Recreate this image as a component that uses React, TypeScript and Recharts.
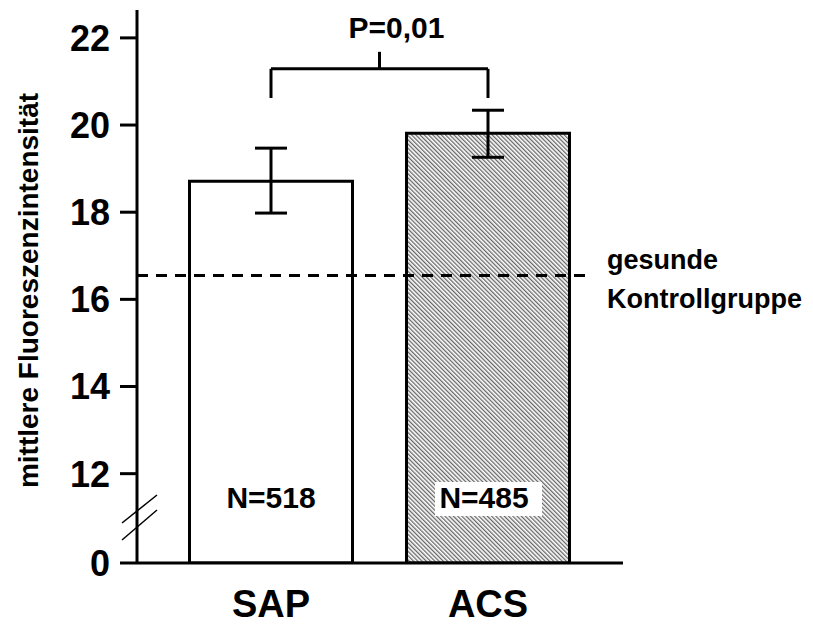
import React from 'react';
import {
   BarChart,
   Bar,
   XAxis,
   YAxis,
   ErrorBar,
   Cell,
   LabelList,
   ReferenceLine,
} from 'recharts';

const FONT = '"Liberation Sans", Arial, Helvetica, sans-serif';

// broken axis: the "0" sits just below 12
const AXIS_BREAK = 9.95;

const categories = ['SAP', 'ACS'];
const means = [18.71, 19.81];
const errLow = [0.73, 0.55];
const errHigh = [0.76, 0.53];
const sampleSizes = [518, 485];

const yTicks = [AXIS_BREAK, 12, 14, 16, 18, 20, 22];
const yTickLabels = ['0', '12', '14', '16', '18', '20', '22'];
const yMax = 22.64;

const controlLevel = 16.55;
const bracketLevel = 21.29;
const bracketLegEnd = 20.62;
const pValueText = 'P=0,01';

const rows = categories.map((category, i) => ({
   category,
   mean: means[i],
   err: [errLow[i], errHigh[i]],
   n: sampleSizes[i],
}));

const YTick = ({ x, y, payload }: any) => {
   const idx = yTicks.indexOf(payload.value);
   const isBreak = payload.value === AXIS_BREAK;
   return (
      <g>
         <text
            x={x}
            y={y}
            dy="0.36em"
            textAnchor="end"
            fontSize={36}
            fontWeight="bold"
            fontFamily={FONT}
            fill="#000"
         >
            {yTickLabels[idx]}
         </text>
         {isBreak && (
            <g stroke="#000" strokeWidth={1.5}>
               <line x1={x + 12} y1={y - 40} x2={x + 47} y2={y - 68} />
               <line x1={x + 12} y1={y - 23} x2={x + 47} y2={y - 53} />
            </g>
         )}
      </g>
   );
};

const XTick = ({ x, y, payload }: any) => (
   <text
      x={x}
      y={y + 52}
      textAnchor="middle"
      fontSize={38}
      fontWeight="bold"
      fontFamily={FONT}
      fill="#000"
   >
      {payload.value}
   </text>
);

const YLabel = ({ viewBox }: any) => {
   const cx = 30;
   const cy = viewBox.y + viewBox.height / 2 + 4;
   return (
      <text
         x={cx}
         y={cy}
         transform={`rotate(-90 ${cx} ${cy})`}
         textAnchor="middle"
         fontSize={28}
         fontWeight="bold"
         fontFamily={FONT}
         fill="#000"
      >
         mittlere Fluoreszenzintensität
      </text>
   );
};

const SampleLabel = ({ x, y, width, height, value, index }: any) => {
   const cx = x + width / 2;
   const base = y + height - 55;
   const boxed = index === 1;
   return (
      <g>
         {boxed && (
            <rect x={cx - 53} y={base - 26} width={107} height={34} fill="#fff" />
         )}
         <text
            x={boxed ? cx - 4 : cx}
            y={base}
            textAnchor="middle"
            fontSize={30}
            fontWeight="bold"
            fontFamily={FONT}
            fill="#000"
         >
            {`N=${value}`}
         </text>
      </g>
   );
};

const ControlLine = ({ x1, x2, y1 }: any) => (
   <g>
      <line
         x1={x1}
         y1={y1}
         x2={x2 - 31}
         y2={y1}
         stroke="#000"
         strokeWidth={3}
         strokeDasharray="11 8"
      />
      <text x={x2 - 16} y={y1 - 6} fontSize={27} fontWeight="bold" fontFamily={FONT} fill="#000">
         gesunde
      </text>
      <text x={x2 - 16} y={y1 + 33} fontSize={27} fontWeight="bold" fontFamily={FONT} fill="#000">
         Kontrollgruppe
      </text>
   </g>
);

const BracketTop = ({ x1, x2, y1 }: any) => {
   const mid = (x1 + x2) / 2;
   return (
      <g>
         <line x1={x1} y1={y1} x2={x2} y2={y1} stroke="#000" strokeWidth={3} />
         <line x1={mid} y1={y1} x2={mid} y2={y1 - 17} stroke="#000" strokeWidth={3} />
         <text
            x={mid + 17}
            y={y1 - 31}
            textAnchor="middle"
            fontSize={30}
            fontWeight="bold"
            fontFamily={FONT}
            fill="#000"
         >
            {pValueText}
         </text>
      </g>
   );
};

export default function App() {
   return (
      <BarChart
         width={805}
         height={616}
         data={rows}
         margin={{ top: 2, right: 190, left: 0, bottom: 0 }}
      >
         <defs>
            <pattern
               id="hatch"
               width="3"
               height="3"
               patternUnits="userSpaceOnUse"
               patternTransform="rotate(-45)"
            >
               <rect width="3" height="3" fill="#fff" />
               <line x1="0" y1="0" x2="0" y2="3" stroke="#666" strokeWidth="2.6" />
            </pattern>
         </defs>
         <XAxis
            dataKey="category"
            padding={{ left: 25.5, right: 26.5 }}
            height={61}
            tickLine={false}
            tickSize={0}
            axisLine={{ stroke: '#000', strokeWidth: 3 }}
            tick={<XTick />}
         />
         <YAxis
            type="number"
            width={129}
            domain={[AXIS_BREAK, yMax]}
            ticks={yTicks}
            interval={0}
            allowDataOverflow
            tickSize={17}
            tickMargin={10}
            tickLine={{ stroke: '#000', strokeWidth: 3 }}
            axisLine={{ stroke: '#000', strokeWidth: 3 }}
            tick={<YTick />}
            label={(props: any) => <YLabel {...props} />}
         />
         <Bar
            dataKey="mean"
            barSize={163}
            stroke="#000"
            strokeWidth={3}
            isAnimationActive={false}
         >
            {rows.map((r, i) => (
               <Cell key={r.category} fill={i === 0 ? '#fff' : 'url(#hatch)'} />
            ))}
            <ErrorBar dataKey="err" width={16} stroke="#000" strokeWidth={3} />
            <LabelList dataKey="n" content={<SampleLabel />} />
         </Bar>
         <ReferenceLine y={controlLevel} shape={(p: any) => <ControlLine {...p} />} />
         <ReferenceLine
            segment={[
               { x: categories[0], y: bracketLevel },
               { x: categories[1], y: bracketLevel },
            ]}
            shape={(p: any) => <BracketTop {...p} />}
         />
         <ReferenceLine
            segment={[
               { x: categories[0], y: bracketLevel },
               { x: categories[0], y: bracketLegEnd },
            ]}
            stroke="#000"
            strokeWidth={3}
         />
         <ReferenceLine
            segment={[
               { x: categories[1], y: bracketLevel },
               { x: categories[1], y: bracketLegEnd },
            ]}
            stroke="#000"
            strokeWidth={3}
         />
      </BarChart>
   );
}
